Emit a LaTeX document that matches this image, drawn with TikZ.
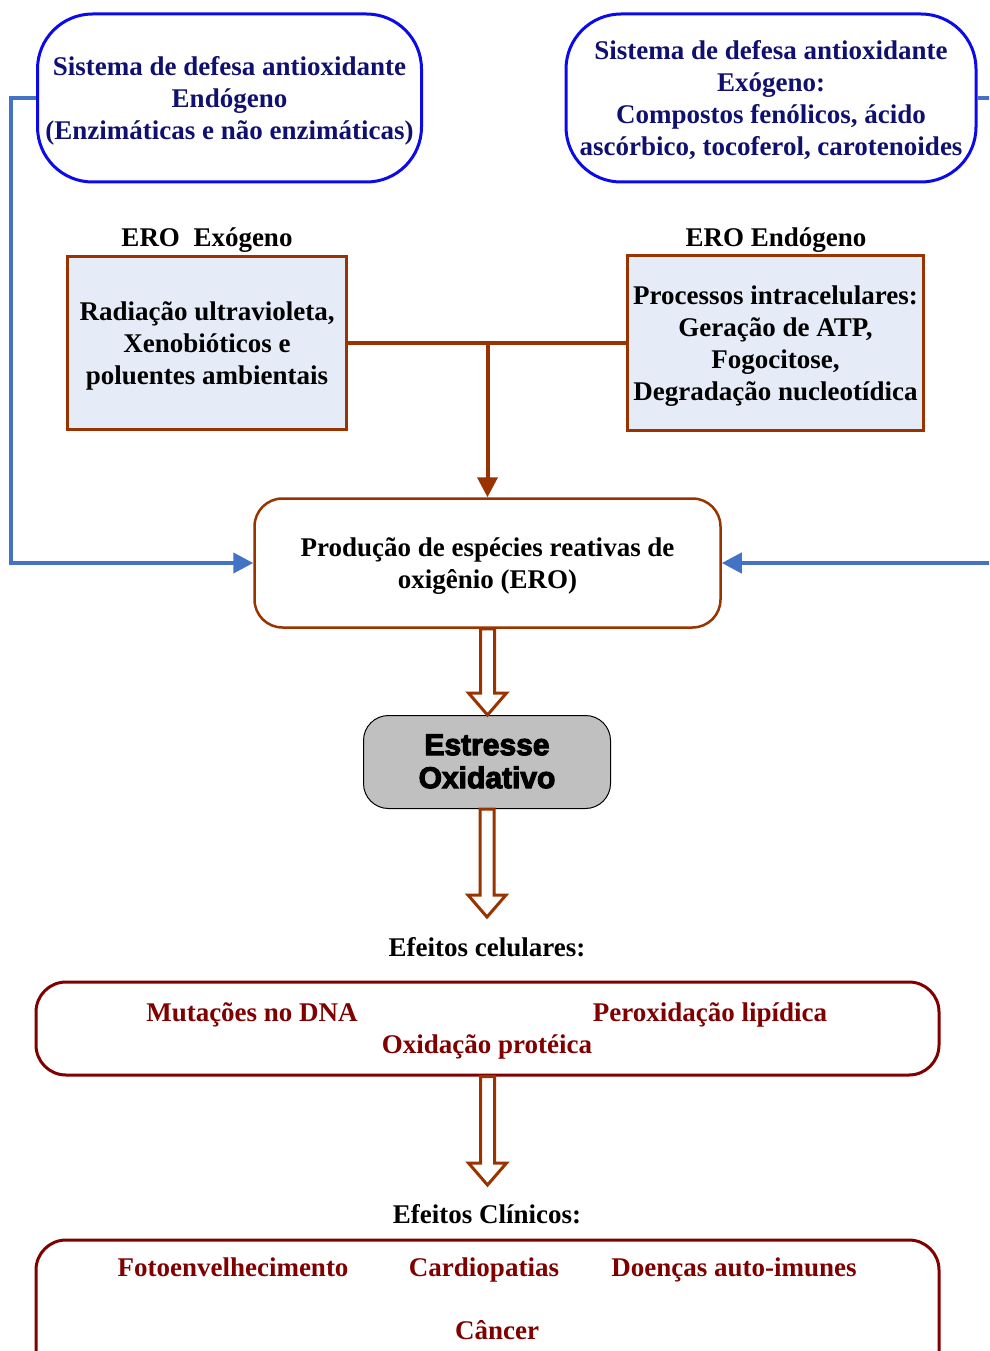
\documentclass[tikz,border=0pt]{standalone}
\usepackage{fontspec}
\setmainfont{Liberation Serif}
\setsansfont{Liberation Sans}
\usetikzlibrary{arrows.meta,calc}

\definecolor{navytxt}{RGB}{16,16,112}
\definecolor{defblue}{RGB}{10,10,235}
\definecolor{linkblue}{RGB}{68,114,196}
\definecolor{brownline}{RGB}{153,51,0}
\definecolor{boxfill}{RGB}{230,236,247}
\definecolor{darkred}{RGB}{128,0,0}
\definecolor{stressgray}{RGB}{192,192,192}

% centred block of lines, lowered slightly inside its box (size kept)
\newcommand{\boxlines}[1]{\raisebox{-3pt}[\height][\depth]{\begin{tabular}{@{}c@{}}#1\end{tabular}}}
% heavier sans lettering (fill and stroke the glyphs)
\newcommand{\heavytext}[1]{\special{pdf:literal direct 2 Tr 1.1 w}#1\special{pdf:literal direct 0 Tr 1 w}}

\tikzset{
  bigfont/.style={font=\fontsize{27}{32}\selectfont\bfseries},
  defbox/.style={draw=defblue, line width=3pt, rounded corners=55pt,
    text=navytxt, bigfont, inner sep=0pt},
  srcbox/.style={draw=brownline, line width=2.5pt, fill=boxfill,
    bigfont, inner sep=0pt},
  erobox/.style={draw=brownline, line width=2.5pt, rounded corners=28pt,
    bigfont, inner sep=0pt},
  stressbox/.style={draw=black, line width=1pt, fill=stressgray, rounded corners=25pt,
    font=\fontsize{30}{33}\selectfont\sffamily\bfseries, inner sep=0pt},
  effbox/.style={draw=darkred, line width=3pt, rounded corners=30pt, inner sep=0pt},
  heading/.style={bigfont, anchor=base, inner sep=0pt},
  effect/.style={bigfont, text=darkred, anchor=base, inner sep=0pt},
  linkline/.style={draw=linkblue, line width=4pt,
    -{Triangle[length=20pt,width=20pt]}},
  feedline/.style={draw=brownline, line width=4pt},
  hollowarr/.style={draw=brownline, line width=3pt, fill=white, line join=miter},
}

% hollow block arrow pointing down from #1 to #2
\newcommand{\hollowdown}[2]{%
  \path[hollowarr] let \p1=(#1), \p2=(#2) in
    ({\x1-7pt},\y1) -- ({\x1-7pt},{\y2+22pt}) -- ({\x1-19pt},{\y2+22pt})
    -- (\x1,\y2) -- ({\x1+19pt},{\y2+22pt}) -- ({\x1+7pt},{\y2+22pt})
    -- ({\x1+7pt},\y1) -- cycle;}

\begin{document}
\begin{tikzpicture}[x=1pt,y=-1pt]
\useasboundingbox (0,0) rectangle (989,1351);
\clip (0,0) rectangle (989,1351);

% antioxidant defence systems
\node[defbox, minimum width=384, minimum height=168] (defl) at (229.5,98)
  {\boxlines{Sistema de defesa antioxidante\\Endógeno\\(Enzimáticas e não enzimáticas)}};
\node[defbox, minimum width=410, minimum height=168] (defr) at (771,98)
  {\boxlines{Sistema de defesa antioxidante\\Exógeno:\\Compostos fenólicos, ácido\\ascórbico, tocoferol, carotenoides}};

% ROS sources
\node[heading] (exolab) at (207,246) {ERO~~Exógeno};
\node[heading] (endolab) at (776,246) {ERO Endógeno};
\node[srcbox, minimum width=279, minimum height=173] (exo) at (207,343)
  {\boxlines{Radiação ultravioleta,\\Xenobióticos e\\poluentes ambientais}};
\node[srcbox, minimum width=296, minimum height=175] (endo) at (775.5,343)
  {\boxlines{Processos intracelulares:\\Geração de ATP,\\Fogocitose,\\Degradação nucleotídica}};

% ROS production
\node[erobox, minimum width=466, minimum height=129] (ero) at (487.5,563)
  {\boxlines{Produção de espécies reativas de\\oxigênio (ERO)}};

% oxidative stress
\node[stressbox, minimum width=247, minimum height=93] (stress) at (487,762)
  {\heavytext{\boxlines{Estresse\\Oxidativo}}};

% cellular effects
\node[heading] (celllab) at (487,956) {Efeitos celulares:};
\node[effbox, minimum width=903, minimum height=93] (cell) at (487.5,1028.5) {};
\node[effect] (dna) at (252,1021) {Mutações no DNA};
\node[effect] (lip) at (710,1021) {Peroxidação lipídica};
\node[effect] (prot) at (487,1053) {Oxidação protéica};

% clinical effects
\node[heading] (clinlab) at (487,1223) {Efeitos Clínicos:};
\node[effbox, minimum width=903, minimum height=200] (clin) at (487.5,1340) {};
\node[effect] (foto) at (233,1276) {Fotoenvelhecimento};
\node[effect] (cardio) at (484,1276) {Cardiopatias};
\node[effect] (auto) at (734,1276) {Doenças auto-imunes};
\node[effect] (cancer) at (497,1339) {Câncer};

% connectors
\coordinate (jn) at (ero.north |- exo.east);
\draw[feedline] (exo.east) -- (endo.west);
\draw[feedline, -{Triangle[length=20pt,width=20pt]}] (jn) -- (ero.north);

\draw[linkline] (defl.west) -- ++(-25,0) |- (ero.west);
\draw[linkline] (defr.east) -- ++(30,0) |- (ero.east);

\coordinate (tipcell) at (487,917);
\coordinate (tipclin) at (487,1185);
\hollowdown{ero.south}{stress.north}
\hollowdown{stress.south}{tipcell}
\hollowdown{cell.south}{tipclin}
\end{tikzpicture}
\end{document}
